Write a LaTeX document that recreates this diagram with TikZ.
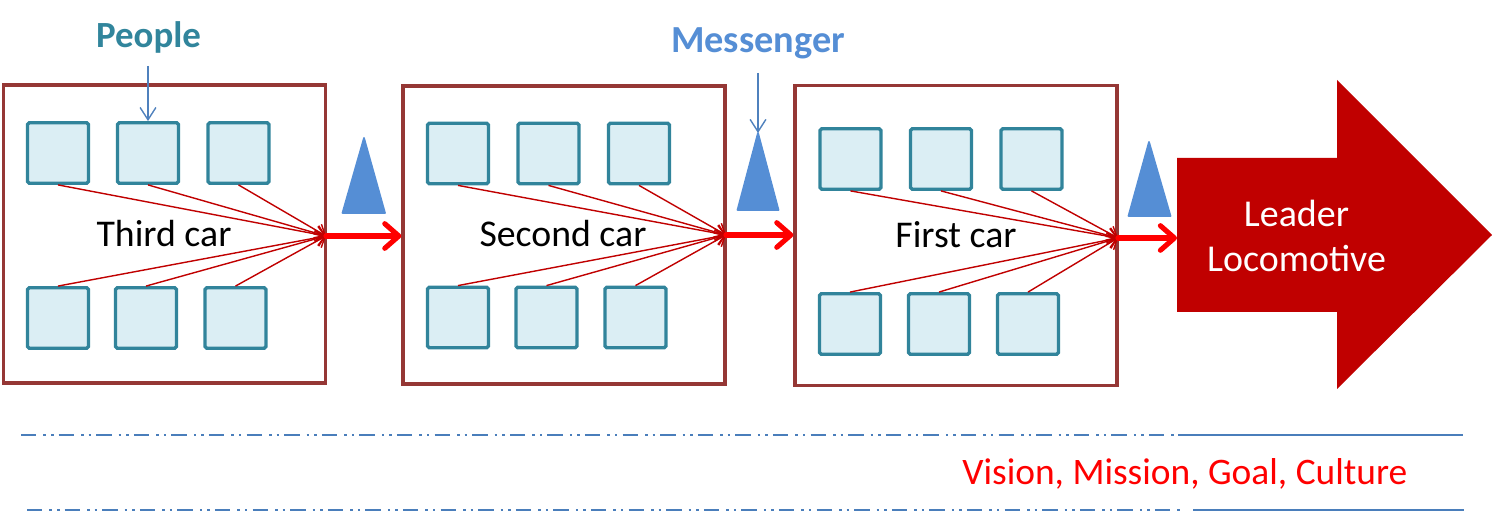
\documentclass[tikz,border=0pt]{standalone}
\usepackage{fontspec}
\setmainfont{Carlito}
\usetikzlibrary{arrows.meta}
\definecolor{carbrd}{HTML}{953735}
\definecolor{sqfill}{HTML}{DBEEF4}
\definecolor{sqdraw}{HTML}{31849B}
\definecolor{thinred}{HTML}{C00000}
\definecolor{thickred}{HTML}{FF0000}
\definecolor{trifill}{HTML}{558ED5}
\definecolor{msgline}{HTML}{4F81BD}
\definecolor{dashblue}{HTML}{4A7EBB}
\definecolor{locored}{HTML}{C00000}
\definecolor{peoplecol}{HTML}{31859C}
\tikzset{
  car/.style={draw=carbrd, line width=1.9pt, minimum width=6.44cm, minimum height=5.96cm, inner sep=0pt},
  person/.style={draw=sqdraw, fill=sqfill, line width=1.9pt, rounded corners=1pt, minimum width=1.22cm, minimum height=1.21cm, inner sep=0pt},
  feed/.style={draw=thinred, line width=0.8pt, -{Straight Barb[length=5pt,width=9pt]}},
  pass/.style={draw=thickred, line width=2.9pt, line cap=round, -{Straight Barb[length=8pt,width=14pt,round]}},
  tri/.style={fill=trifill, draw=trifill, line width=1pt, line join=round},
  pointer/.style={draw=msgline, line width=0.8pt, -{Straight Barb[length=7pt,width=9pt]}},
  cartext/.style={font=\fontsize{21.5}{25}\selectfont, anchor=base, inner sep=0pt},
  headtext/.style={font=\fontsize{21}{24}\selectfont\bfseries, anchor=base, inner sep=0pt},
  rule/.style={draw=dashblue, line width=1.3pt},
  dd/.style={rule, dash pattern=on 8.8pt off 4pt on 1.4pt off 2.9pt on 1.4pt off 2.9pt}
}
\begin{document}
\begin{tikzpicture}[x=0.02cm, y=-0.02cm]
\useasboundingbox (0,0) rectangle (1492,519);

% cars
\node[car] (car1) at (164.5,234) {};
\node[car] (car2) at (564,235) {};
\node[car, minimum height=6.0cm] (car3) at (956,235.5) {};

% people, third car
\node[person] (a1) at (58,153) {};
\node[person] (a2) at (148,153) {};
\node[person] (a3) at (238.5,153) {};
\node[person] (a4) at (58,318) {};
\node[person] (a5) at (146,318) {};
\node[person] (a6) at (235.5,318) {};
% people, second car
\node[person] (b1) at (458,153.5) {};
\node[person] (b2) at (548.5,153.5) {};
\node[person] (b3) at (639,153.5) {};
\node[person] (b4) at (458,317.5) {};
\node[person] (b5) at (546.5,317.5) {};
\node[person] (b6) at (635.5,317.5) {};
% people, first car
\node[person] (c1) at (850.5,159) {};
\node[person] (c2) at (941,159) {};
\node[person] (c3) at (1031.5,159) {};
\node[person] (c4) at (850,324) {};
\node[person] (c5) at (939,324) {};
\node[person] (c6) at (1028,324) {};

% convergence points
\coordinate (p1) at (326,236);
\coordinate (p2) at (726,235);
\coordinate (p3) at (1118,238);

\foreach \n in {a1,a2,a3} \draw[feed] (\n.south) -- (p1);
\foreach \n in {a4,a5,a6} \draw[feed] (\n.north) -- (p1);
\foreach \n in {b1,b2,b3} \draw[feed] (\n.south) -- (p2);
\foreach \n in {b4,b5,b6} \draw[feed] (\n.north) -- (p2);
\foreach \n in {c1,c2,c3} \draw[feed] (\n.south) -- (p3);
\foreach \n in {c4,c5,c6} \draw[feed] (\n.north) -- (p3);

% car labels
\node[cartext] (t1) at (164,247) {Third car};
\node[cartext] (t2) at (563,247) {Second car};
\node[cartext] (t3) at (956,248) {First car};

% locomotive
\fill[locored] (1177,158) -- (1337,158) -- (1337,80) -- (1492,235) -- (1337,389) -- (1337,312) -- (1177,312) -- cycle;
\node[font=\fontsize{21.6}{25.5}\selectfont, text=white, align=center, inner sep=0pt] (loco) at (1296.5,236) {Leader\\Locomotive};
\coordinate (lw) at (1177,238);

% thick passing arrows
\draw[pass] (p1) -- (car2.west |- p1);
\draw[pass] (p2) -- (car3.west |- p2);
\draw[pass] (p3) -- (lw);

% messengers
\filldraw[tri] (342.5,213) -- (364,138) -- (385,213) -- cycle;
\filldraw[tri] (737.5,210) -- (758,133) -- (778.5,210) -- cycle;
\filldraw[tri] (1128.5,216) -- (1149,142) -- (1170.5,216) -- cycle;
\coordinate (m2) at (758,133);

% headings
\node[headtext, text=peoplecol] (people) at (148.5,48) {People};
\node[headtext, text=trifill, font=\fontsize{21.8}{24}\selectfont\bfseries] (messenger) at (758,53) {Messenger};
\coordinate (pp) at (148,66);
\coordinate (mm) at (758,73);
\draw[pointer] (pp) -- (a2.north);
\draw[pointer] (mm) -- (m2);

% rules
\coordinate (r1a) at (21,435);
\coordinate (r1b) at (1178,435);
\coordinate (r1c) at (1463,435);
\coordinate (r2a) at (27,510);
\coordinate (r2b) at (1182,510);
\coordinate (r2c) at (1193,510);
\coordinate (r2d) at (1464,510);
\draw[dd] (r1a) -- (r1b);
\draw[rule] (r1b) -- (r1c);
\draw[dd] (r2a) -- (r2b);
\draw[rule] (r2c) -- (r2d);
\node[font=\fontsize{21.3}{24}\selectfont, text=thickred, anchor=base west, inner sep=0pt] (vision) at (962,485) {Vision, Mission, Goal, Culture};
\end{tikzpicture}
\end{document}
